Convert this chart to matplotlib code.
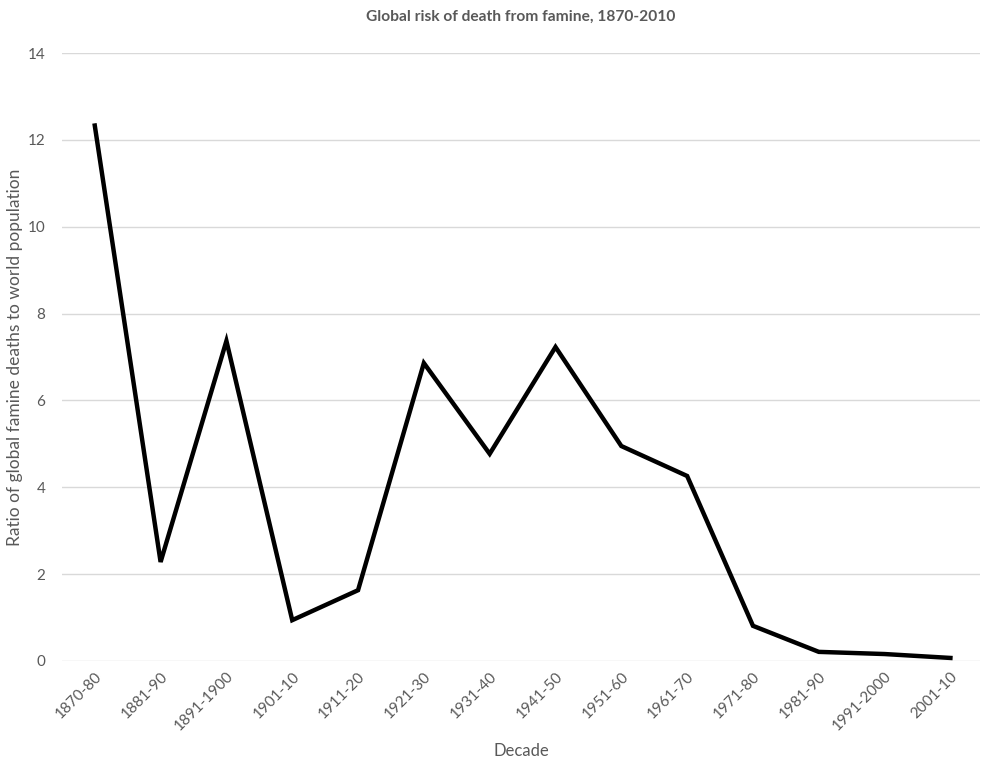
import matplotlib
matplotlib.use("Agg")
import matplotlib.pyplot as plt

# decade labels and famine death ratio per decade
decades = ["1870-80", "1881-90", "1891-1900", "1901-10", "1911-20", "1921-30",
           "1931-40", "1941-50", "1951-60", "1961-70", "1971-80", "1981-90",
           "1991-2000", "2001-10"]
ratio = [12.33, 2.28, 7.37, 0.94, 1.63, 6.86, 4.77, 7.23, 4.95, 4.26,
         0.81, 0.21, 0.16, 0.07]
y_ticks = [0, 2, 4, 6, 8, 10, 12, 14]

plt.rcParams["font.family"] = ["Lato", "DejaVu Sans"]
GREY = "#595959"

fig = plt.figure(figsize=(9.82, 7.63), dpi=100)
ax = fig.add_axes([0.063, 0.1337, 0.935, 0.7968])

x = list(range(len(decades)))
ax.plot(x, ratio, color="black", linewidth=3.2, solid_joinstyle="miter")

ax.set_xlim(-0.5, len(decades) - 0.55)
ax.set_ylim(0, 14)
ax.set_yticks(y_ticks)
ax.set_yticklabels([str(v) for v in y_ticks])
ax.set_xticks(x)
ax.set_xticklabels(decades, rotation=45, ha="right", rotation_mode="anchor")

ax.grid(axis="y", color="#d9d9d9", linewidth=1)
ax.set_axisbelow(True)
for side in ["top", "right", "left", "bottom"]:
    ax.spines[side].set_visible(False)
ax.tick_params(axis="both", length=0, colors=GREY, labelsize=11)
ax.tick_params(axis="y", pad=12)
ax.tick_params(axis="x", pad=6)

ax.set_title("Global risk of death from famine, 1870-2010", fontsize=11.2,
             color=GREY, fontweight="bold", pad=23)
ax.set_xlabel("Decade", fontsize=12, color=GREY, labelpad=7)
ax.set_ylabel("Ratio of global famine deaths to world population", fontsize=12.5,
              color=GREY, labelpad=3)

fig.savefig("out.png", dpi=100)
